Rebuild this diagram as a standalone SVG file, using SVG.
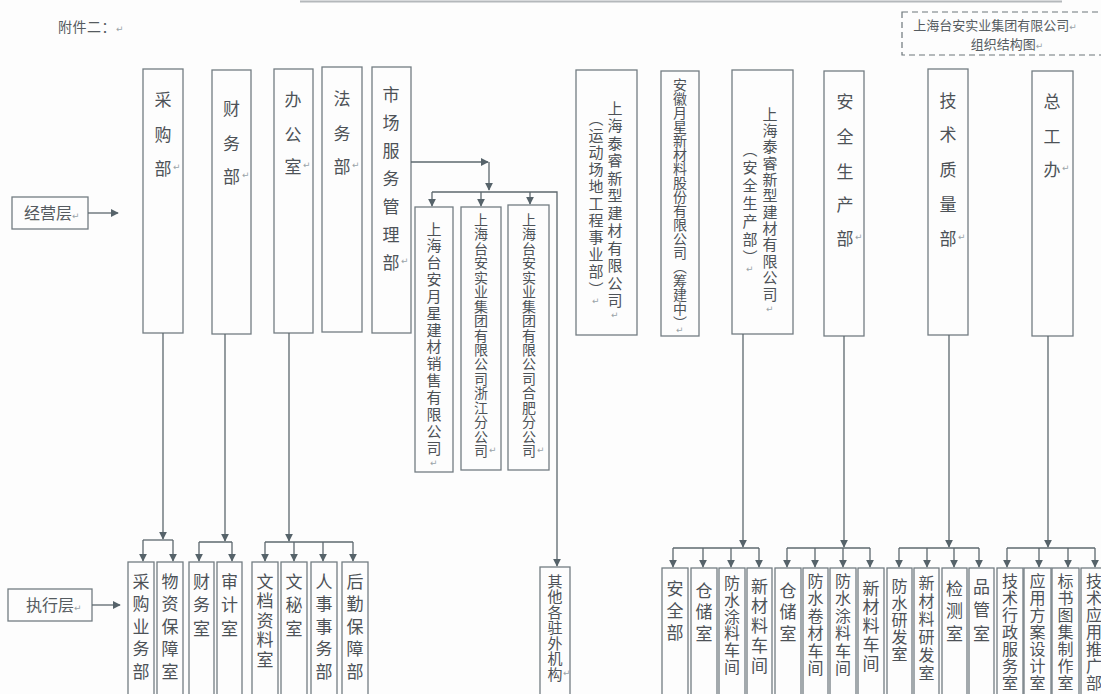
<svg xmlns="http://www.w3.org/2000/svg" width="1101" height="694" viewBox="0 0 1101 694">
<defs>
<style>
.box{fill:none;stroke:#737d83;stroke-width:1.3}
.dash{fill:none;stroke:#6d767b;stroke-width:1.2;stroke-dasharray:6 4}
.c{fill:none;stroke:#5d686e;stroke-width:1.3}
.t{font-family:"Noto Sans CJK SC","Noto Sans CJK JP",sans-serif;fill:#4d5257;text-anchor:middle;dominant-baseline:central}
.v{writing-mode:vertical-rl;text-anchor:start}
.h{font-family:"Noto Sans CJK SC","Noto Sans CJK JP",sans-serif;fill:#555b60}
.pm{font-family:"DejaVu Sans",sans-serif;font-size:9px;fill:#9aa3a8}
.f17{font-size:17px}.f16{font-size:16px}.f15{font-size:15px}.f14{font-size:14px}
</style>
<marker id="ar" viewBox="0 0 10 10" refX="9" refY="5" markerWidth="8" markerHeight="8" markerUnits="userSpaceOnUse" orient="auto">
<path d="M0,0 L10,5 L0,10 z" fill="#56636a"/>
</marker>
</defs>
<rect width="1101" height="694" fill="#fdfdfd"/>
<line x1="300" y1="1.5" x2="1062" y2="1.5" stroke="#b4b8bb" stroke-width="2"/>

<text class="h" x="58" y="32" font-size="14" letter-spacing="0.5">附件二：<tspan class="pm">↵</tspan></text>

<g id="title">
<rect class="dash" x="902" y="12" width="215" height="43"/>
<text class="h" x="995" y="30" font-size="13" text-anchor="middle">上海台安实业集团有限公司<tspan class="pm">↵</tspan></text>
<text class="h" x="1007" y="49" font-size="13" text-anchor="middle">组织结构图<tspan class="pm">↵</tspan></text>
</g>

<g id="jingying">
<rect class="box" x="12" y="197" width="76" height="32"/>
<text class="h" x="24" y="219" font-size="16">经营层<tspan class="pm">↵</tspan></text>
</g>
<g id="zhixing">
<rect class="box" x="8" y="589" width="84" height="32"/>
<text class="h" x="26" y="611" font-size="16">执行层<tspan class="pm">↵</tspan></text>
</g>

<!-- top row -->
<g id="caigou">
<rect class="box" x="143" y="69" width="40" height="264"/>
<text class="t f17" x="163 163 163" y="98 133 167">采购部</text>
<text class="pm" x="173" y="170">↵</text>
</g>
<g id="caiwu">
<rect class="box" x="212" y="70" width="39" height="264"/>
<text class="t f17" x="231.5 231.5 231.5" y="107 142 175">财务部</text>
<text class="pm" x="242" y="178">↵</text>
</g>
<g id="bangong">
<rect class="box" x="274" y="69" width="39" height="264"/>
<text class="t f17" x="293 293 293" y="98 133 165">办公室</text>
<text class="pm" x="303" y="168">↵</text>
</g>
<g id="fawu">
<rect class="box" x="322" y="67" width="40" height="265"/>
<text class="t f17" x="342 342 342" y="97 132 165">法务部</text>
<text class="pm" x="352" y="168">↵</text>
</g>
<g id="shichang">
<rect class="box" x="372" y="67" width="39" height="266"/>
<text class="t f17" x="391 391 391 391 391 391 391" y="93 121 149 177 205 233 261">市场服务管理部</text>
<text class="pm" x="401" y="264">↵</text>
</g>
<g id="tairui1">
<rect class="box" x="576" y="70" width="61" height="265"/>
<text class="t f15" x="615 615 615 615 615 615 615 615 615 615 615 615" y="107 124.5 142 159.5 177 194.5 212 229.5 247 264.5 282 299.5">上海泰睿新型建材有限公司</text>
<text class="t f15 v" x="596" y="110.4" letter-spacing="2.1">（运动场地工程事业部）</text>
<text class="pm" x="592" y="304">↵</text>
<text class="pm" x="611" y="318">↵</text>
</g>
<g id="anhui">
<rect class="box" x="661" y="71" width="38" height="265"/>
<text class="t f14 v" x="680" y="78">安徽月星新材料股份有限公司（筹建中）</text>
<text class="pm" x="676" y="333">↵</text>
</g>
<g id="tairui2">
<rect class="box" x="732" y="70" width="61" height="264"/>
<text class="t f15" x="770 770 770 770 770 770 770 770 770 770 770 770" y="113 129.4 145.7 162.1 178.5 194.8 211.2 227.5 243.9 260.3 276.6 293">上海泰睿新型建材有限公司</text>
<text class="t f15 v" x="750" y="141.5" letter-spacing="3">（安全生产部）</text>
<text class="pm" x="746" y="272">↵</text>
<text class="pm" x="766" y="312">↵</text>
</g>
<g id="anquan">
<rect class="box" x="824" y="71" width="40" height="265"/>
<text class="t f17" x="845 845 845 845 845" y="100 135 170 203 237">安全生产部</text>
<text class="pm" x="855" y="240">↵</text>
</g>
<g id="jishu">
<rect class="box" x="928" y="69" width="40" height="266"/>
<text class="t f17" x="948 948 948 948 948" y="99 133 168 203 237">技术质量部</text>
<text class="pm" x="958" y="240">↵</text>
</g>
<g id="zonggong">
<rect class="box" x="1032" y="71" width="41" height="265"/>
<text class="t f17" x="1052 1052 1052" y="100 135 168">总工办</text>
<text class="pm" x="1062" y="171">↵</text>
</g>

<!-- middle -->
<g id="yuexing">
<rect class="box" x="415" y="207" width="38" height="265"/>
<text class="t f15" x="434 434 434 434 434 434 434 434 434 434 434 434 434 434" y="228 244.8 261.7 278.5 295.4 312.2 329.1 345.9 362.8 379.6 396.5 413.3 430.2 447">上海台安月星建材销售有限公司</text>
<text class="pm" x="430" y="466">↵</text>
</g>
<g id="zhejiang">
<rect class="box" x="461" y="207" width="40" height="263"/>
<text class="t f14" x="481 481 481 481 481 481 481 481 481 481 481 481 481 481 481 481 481" y="219 233.4 247.9 262.3 276.8 291.2 305.6 320.1 334.5 349 363.4 377.8 392.3 406.7 421.1 435.6 450">上海台安实业集团有限公司浙江分公司</text>
<text class="pm" x="489" y="453">↵</text>
</g>
<g id="hefei">
<rect class="box" x="508" y="205" width="41" height="265"/>
<text class="t f14" x="529 529 529 529 529 529 529 529 529 529 529 529 529 529 529 529 529" y="219 233.4 247.9 262.3 276.8 291.2 305.6 320.1 334.5 349 363.4 377.8 392.3 406.7 421.1 435.6 450">上海台安实业集团有限公司合肥分公司</text>
<text class="pm" x="537" y="453">↵</text>
</g>
<g id="qita">
<rect class="box" x="540" y="567" width="30" height="140"/>
<text class="t f15" x="555 555 555 555 555 555 555" y="580 595.5 611 626.5 642 657.5 673">其他各驻外机构</text>
<text class="pm" x="563" y="676">↵</text>
</g>

<!-- bottom left -->
<g id="b1"><rect class="box" x="128" y="562" width="26" height="140"/><text class="t f17" x="141 141 141 141 141" y="580 602.5 625 647.5 670">采购业务部</text></g>
<g id="b2"><rect class="box" x="157" y="562" width="26" height="140"/><text class="t f17" x="170 170 170 170 170" y="580 602.5 625 647.5 670">物资保障室</text></g>
<g id="b3"><rect class="box" x="189" y="562" width="25" height="140"/><text class="t f17" x="201.5 201.5 201.5" y="580 603.5 627">财务室</text></g>
<g id="b4"><rect class="box" x="217" y="562" width="25" height="140"/><text class="t f17" x="229.5 229.5 229.5" y="580 603.5 627">审计室</text></g>
<g id="b5"><rect class="box" x="252" y="562" width="26" height="140"/><text class="t f17" x="265 265 265 265 265" y="580 599.5 619 638.5 658">文档资料室</text></g>
<g id="b6"><rect class="box" x="281" y="562" width="26" height="140"/><text class="t f17" x="294 294 294" y="580 603.5 627">文秘室</text></g>
<g id="b7"><rect class="box" x="311" y="562" width="26" height="140"/><text class="t f17" x="324 324 324 324 324" y="580 602.5 625 647.5 670">人事事务部</text></g>
<g id="b8"><rect class="box" x="342" y="562" width="26" height="140"/><text class="t f17" x="355 355 355 355 355" y="580 602.5 625 647.5 670">后勤保障部</text></g>

<!-- bottom right -->
<g id="r1"><rect class="box" x="662" y="568" width="26" height="140"/><text class="t f17" x="675 675 675" y="587 609 631">安全部</text></g>
<g id="r2"><rect class="box" x="691" y="568" width="26" height="140"/><text class="t f17" x="704 704 704" y="589 610.5 632">仓储室</text></g>
<g id="r3"><rect class="box" x="719" y="568" width="26" height="140"/><text class="t f16" x="732 732 732 732 732 732" y="582 598.8 615.6 632.4 649.2 666">防水涂料车间</text></g>
<g id="r4"><rect class="box" x="747" y="568" width="25" height="140"/><text class="t f17" x="759.5 759.5 759.5 759.5 759.5" y="585 604.75 624.5 644.25 664">新材料车间</text></g>
<g id="r5"><rect class="box" x="775" y="568" width="26" height="140"/><text class="t f17" x="788 788 788" y="589 610.5 632">仓储室</text></g>
<g id="r6"><rect class="box" x="803" y="568" width="25" height="140"/><text class="t f16" x="815.5 815.5 815.5 815.5 815.5 815.5" y="580 597.4 614.8 632.2 649.6 667">防水卷材车间</text></g>
<g id="r7"><rect class="box" x="830" y="568" width="26" height="140"/><text class="t f16" x="843 843 843 843 843 843" y="580 597.4 614.8 632.2 649.6 667">防水涂料车间</text></g>
<g id="r8"><rect class="box" x="858" y="568" width="26" height="140"/><text class="t f17" x="871 871 871 871 871" y="587 605.75 624.5 643.25 662">新材料车间</text></g>
<g id="r9"><rect class="box" x="887" y="568" width="25" height="140"/><text class="t f16" x="899.5 899.5 899.5 899.5 899.5" y="585 602 619 636 653">防水研发室</text></g>
<g id="r10"><rect class="box" x="914" y="568" width="25" height="140"/><text class="t f16" x="926.5 926.5 926.5 926.5 926.5 926.5" y="582 600 618 636 654 672">新材料研发室</text></g>
<g id="r11"><rect class="box" x="942" y="568" width="25" height="140"/><text class="t f17" x="954.5 954.5 954.5" y="587 609.5 632">检测室</text></g>
<g id="r12"><rect class="box" x="969" y="568" width="25" height="140"/><text class="t f17" x="981.5 981.5 981.5" y="585 608.5 632">品管室</text></g>
<g id="r13"><rect class="box" x="997" y="568" width="26" height="140"/><text class="t f16" x="1010 1010 1010 1010 1010 1010 1010" y="580 597 614 631 648 665 682">技术行政服务室</text></g>
<g id="r14"><rect class="box" x="1024" y="568" width="27" height="140"/><text class="t f16" x="1037.5 1037.5 1037.5 1037.5 1037.5 1037.5 1037.5" y="580 597 614 631 648 665 682">应用方案设计室</text></g>
<g id="r15"><rect class="box" x="1052" y="568" width="27" height="140"/><text class="t f16" x="1065.5 1065.5 1065.5 1065.5 1065.5 1065.5 1065.5" y="580 597 614 631 648 665 682">标书图集制作室</text></g>
<g id="r16"><rect class="box" x="1081" y="568" width="27" height="140"/><text class="t f16" x="1094 1094 1094 1094 1094 1094 1094" y="580 597 614 631 648 665 682">技术应用推广部</text></g>

<g id="connectors">
<line class="c" x1="88" y1="213" x2="118" y2="213" marker-end="url(#ar)"/>
<line class="c" x1="92" y1="605" x2="120" y2="605" marker-end="url(#ar)"/>

<line class="c" x1="163" y1="333" x2="163" y2="539" marker-end="url(#ar)"/>
<path class="c" d="M143,540 H173"/>
<line class="c" x1="143" y1="540" x2="143" y2="561" marker-end="url(#ar)"/>
<line class="c" x1="173" y1="540" x2="173" y2="561" marker-end="url(#ar)"/>

<line class="c" x1="225" y1="334" x2="225" y2="541" marker-end="url(#ar)"/>
<path class="c" d="M199,542 H232"/>
<line class="c" x1="199" y1="542" x2="199" y2="561" marker-end="url(#ar)"/>
<line class="c" x1="232" y1="542" x2="232" y2="561" marker-end="url(#ar)"/>

<line class="c" x1="289" y1="333" x2="289" y2="541" marker-end="url(#ar)"/>
<path class="c" d="M265,542 H353"/>
<line class="c" x1="265" y1="542" x2="265" y2="561" marker-end="url(#ar)"/>
<line class="c" x1="294" y1="542" x2="294" y2="561" marker-end="url(#ar)"/>
<line class="c" x1="323" y1="542" x2="323" y2="561" marker-end="url(#ar)"/>
<line class="c" x1="353" y1="542" x2="353" y2="561" marker-end="url(#ar)"/>

<line class="c" x1="411" y1="162" x2="488" y2="162" marker-end="url(#ar)"/>
<line class="c" x1="489" y1="162" x2="489" y2="190" marker-end="url(#ar)"/>
<path class="c" d="M432,192 H557 V566" marker-end="url(#ar)"/>
<line class="c" x1="432" y1="192" x2="432" y2="206" marker-end="url(#ar)"/>
<line class="c" x1="481" y1="192" x2="481" y2="206" marker-end="url(#ar)"/>
<line class="c" x1="530" y1="192" x2="530" y2="204" marker-end="url(#ar)"/>

<line class="c" x1="743" y1="334" x2="743" y2="547" marker-end="url(#ar)"/>
<path class="c" d="M673,548 H759"/>
<line class="c" x1="673" y1="548" x2="673" y2="567" marker-end="url(#ar)"/>
<line class="c" x1="703" y1="548" x2="703" y2="567" marker-end="url(#ar)"/>
<line class="c" x1="731" y1="548" x2="731" y2="567" marker-end="url(#ar)"/>
<line class="c" x1="759" y1="548" x2="759" y2="567" marker-end="url(#ar)"/>

<line class="c" x1="844" y1="336" x2="844" y2="547" marker-end="url(#ar)"/>
<path class="c" d="M787,548 H870"/>
<line class="c" x1="787" y1="548" x2="787" y2="567" marker-end="url(#ar)"/>
<line class="c" x1="815" y1="548" x2="815" y2="567" marker-end="url(#ar)"/>
<line class="c" x1="843" y1="548" x2="843" y2="567" marker-end="url(#ar)"/>
<line class="c" x1="870" y1="548" x2="870" y2="567" marker-end="url(#ar)"/>

<line class="c" x1="949" y1="335" x2="949" y2="547" marker-end="url(#ar)"/>
<path class="c" d="M899,548 H979"/>
<line class="c" x1="899" y1="548" x2="899" y2="567" marker-end="url(#ar)"/>
<line class="c" x1="927" y1="548" x2="927" y2="567" marker-end="url(#ar)"/>
<line class="c" x1="954" y1="548" x2="954" y2="567" marker-end="url(#ar)"/>
<line class="c" x1="979" y1="548" x2="979" y2="567" marker-end="url(#ar)"/>

<line class="c" x1="1048" y1="336" x2="1048" y2="547" marker-end="url(#ar)"/>
<path class="c" d="M1007,548 H1095"/>
<line class="c" x1="1007" y1="548" x2="1007" y2="567" marker-end="url(#ar)"/>
<line class="c" x1="1039" y1="548" x2="1039" y2="567" marker-end="url(#ar)"/>
<line class="c" x1="1068" y1="548" x2="1068" y2="567" marker-end="url(#ar)"/>
<line class="c" x1="1095" y1="548" x2="1095" y2="567" marker-end="url(#ar)"/>
</g>
</svg>
